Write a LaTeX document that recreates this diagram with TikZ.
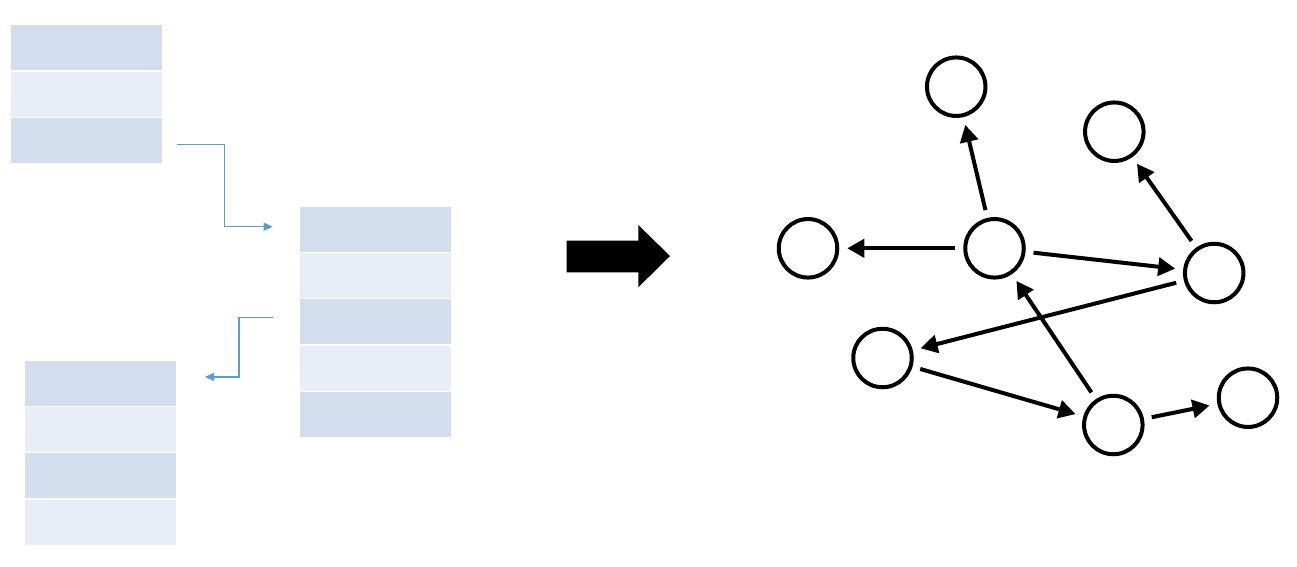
\documentclass[tikz,border=0pt]{standalone}
\usetikzlibrary{arrows.meta}
\definecolor{rowdark}{HTML}{D2DEEE}
\definecolor{rowlight}{HTML}{E9EDF6}
\definecolor{conn}{HTML}{5B9BD5}
\begin{document}
\begin{tikzpicture}[x=1pt,y=-1pt,
  rowcell/.style={rectangle,inner sep=0pt,outer sep=0pt,minimum width=150.5pt,minimum height=45pt,anchor=north west,draw=none},
  dk/.style={rowcell,fill=rowdark},
  lt/.style={rowcell,fill=rowlight},
  vtx/.style={circle,draw=black,line width=4pt,minimum size=58.5pt,inner sep=0pt},
  edge/.style={line width=4pt,-{Triangle[length=17pt,width=18pt]},shorten <=8pt,shorten >=8pt},
  link/.style={draw=conn,line width=1.1pt,-{Triangle[length=9pt,width=8pt]}}]
\fill[white] (0,0) rectangle (1297,566);
\useasboundingbox (0,0) rectangle (1297,566);
% table 1
\node[dk] (a1) at (11,25) {};
\node[lt] (a2) at (11,71.5) {};
\node[dk] (a3) at (11,118) {};
% table 2
\node[dk] (b1) at (300,206.7) {};
\node[lt] (b2) at (300,253) {};
\node[dk] (b3) at (300,299.3) {};
\node[lt] (b4) at (300,345.6) {};
\node[dk] (b5) at (300,391.9) {};
% table 3
\node[dk] (d1) at (25,360.7) {};
\node[lt] (d2) at (25,407) {};
\node[dk] (d3) at (25,453.3) {};
\node[lt] (d4) at (25,499.6) {};
% connectors
\coordinate (c1s) at (176.7,144.3);
\coordinate (c1m) at (224.3,185);
\coordinate (c1e) at (272.7,226.7);
\draw[link] (c1s) -| (c1m) |- (c1e);
\coordinate (c2s) at (273,317.3);
\coordinate (c2m) at (239,345);
\coordinate (c2e) at (205,377);
\draw[link] (c2s) -| (c2m) |- (c2e);
% big arrow
\fill[black] (566.7,240.7) -- (638.3,240.7) -- (638.3,225) -- (670,256) -- (638.3,287.3) -- (638.3,272.3) -- (566.7,272.3) -- cycle;
% graph
\node[vtx] (A) at (956.2,86.7) {};
\node[vtx] (B) at (1114.3,131.7) {};
\node[vtx] (C) at (808,248.3) {};
\node[vtx] (D) at (994.5,248.3) {};
\node[vtx] (E) at (1214.2,273) {};
\node[vtx] (F) at (882.5,358) {};
\node[vtx] (G) at (1113.3,425) {};
\node[vtx] (H) at (1248,397.7) {};
\draw[edge] (D) -- (C);
\draw[edge] (D) -- (A);
\draw[edge] (D) -- (E);
\draw[edge] (E) -- (B);
\draw[edge] (E) -- (F);
\draw[edge] (F) -- (G);
\draw[edge] (G) -- (D);
\draw[edge] (G) -- (H);
\end{tikzpicture}
\end{document}
